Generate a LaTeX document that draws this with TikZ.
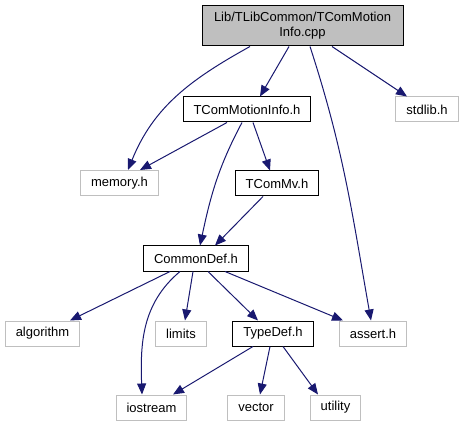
\documentclass[tikz,border=0pt]{standalone}
\usepackage{fontspec}
\setmainfont{Liberation Sans}
\usepackage{xcolor}
\usepackage{tikz}
\usetikzlibrary{arrows.meta, positioning}
\definecolor{edgeblue}{HTML}{191970}
\definecolor{sysgray}{HTML}{BFBFBF}

\begin{document}
\begin{tikzpicture}[x=1pt, y=1pt, every node/.style={font=\fontsize{13}{15}\selectfont, inner xsep=10.5pt, inner ysep=0pt, minimum height=25pt}, align=center,
  filebox/.style={draw=black, line width=1pt, rectangle},
  sysbox/.style={draw=sysgray, line width=1pt, rectangle},
  dep/.style={-{Triangle[length=11pt, width=9pt]}, draw=edgeblue, line width=1pt}]
  \useasboundingbox (0,0) rectangle (465,-427);

  \node (inc_cpp) [filebox, fill=sysgray, minimum width=201pt, minimum height=40pt] at (302.5,-26)
    {Lib/TLibCommon/TComMotion\\Info.cpp};
  \node (inc_motioninfo) [filebox] at (247,-109.5) {TComMotionInfo.h};
  \node (inc_stdlib) [sysbox] at (427,-109.5) {stdlib.h};
  \node (inc_memory) [sysbox] at (119.5,-183) {memory.h};
  \node (inc_mv) [filebox] at (277,-183.5) {TComMv.h};
  \node (inc_commondef) [filebox] at (196,-258.5) {CommonDef.h};
  \node (inc_algorithm) [sysbox] at (42.5,-333.5) {algorithm};
  \node (inc_limits) [sysbox] at (181,-333.5) {limits};
  \node (inc_typedef) [filebox] at (273,-333.5) {TypeDef.h};
  \node (inc_assert) [sysbox] at (373,-333.5) {assert.h};
  \node (inc_iostream) [sysbox] at (151.5,-407.5) {iostream};
  \node (inc_vector) [sysbox] at (256,-407.5) {vector};
  \node (inc_utility) [sysbox] at (335.5,-407.5) {utility};

  \draw [dep] ([xshift=-52.5pt]inc_cpp.south) to[out=209, in=68] ([xshift=8.5pt]inc_memory.north);
  \draw [dep] ([xshift=-13.5pt]inc_cpp.south) -- ([xshift=13pt]inc_motioninfo.north);
  \draw [dep] ([xshift=7.5pt]inc_cpp.south) to[out=-72, in=100] ([xshift=-2pt]inc_assert.north);
  \draw [dep] ([xshift=29.5pt]inc_cpp.south) -- ([xshift=-20pt]inc_stdlib.north);
  \draw [dep] ([xshift=-20pt]inc_motioninfo.south) -- ([xshift=20.5pt]inc_memory.north);
  \draw [dep] ([xshift=-5pt]inc_motioninfo.south) to[out=-118, in=78] ([xshift=4pt]inc_commondef.north);
  \draw [dep] ([xshift=6pt]inc_motioninfo.south) -- ([xshift=-7pt]inc_mv.north);
  \draw [dep] ([xshift=-14pt]inc_mv.south) -- ([xshift=19pt]inc_commondef.north);
  \draw [dep] ([xshift=-26pt]inc_commondef.south) -- ([xshift=27.5pt]inc_algorithm.north);
  \draw [dep] ([xshift=-16pt]inc_commondef.south) to[out=-140, in=92] ([xshift=-9.5pt]inc_iostream.north);
  \draw [dep] ([xshift=-3pt]inc_commondef.south) -- ([xshift=4pt]inc_limits.north);
  \draw [dep] ([xshift=12pt]inc_commondef.south) -- ([xshift=-15pt]inc_typedef.north);
  \draw [dep] ([xshift=29pt]inc_commondef.south) -- ([xshift=-30pt]inc_assert.north);
  \draw [dep] ([xshift=-20pt]inc_typedef.south) -- ([xshift=21.5pt]inc_iostream.north);
  \draw [dep] ([xshift=-3pt]inc_typedef.south) -- ([xshift=4pt]inc_vector.north);
  \draw [dep] ([xshift=10pt]inc_typedef.south) -- ([xshift=-17.5pt]inc_utility.north);
\end{tikzpicture}
\end{document}
